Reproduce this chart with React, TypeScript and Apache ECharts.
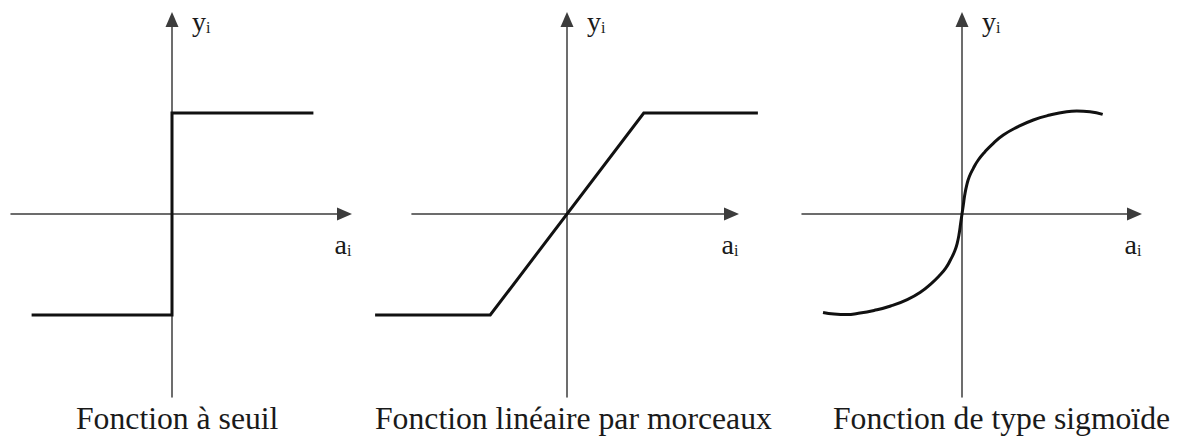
import React, { useEffect, useRef } from 'react';
import * as echarts from 'echarts';

// Panel captions
const panelTitles = ['Fonction à seuil', 'Fonction linéaire par morceaux', 'Fonction de type sigmoïde'];
const titleLeft = [76, 375, 833];

// Axis names (main letter + subscript index)
const xAxisLetter = 'a';
const yAxisLetter = 'y';
const indexLetter = 'i';

// Threshold (step) function
const stepX = [-1.39, 0, 0, 1.4];
const stepY = [-1, -1, 1, 1];

// Piecewise linear function
const linX = [-1.9, -0.76, 0.76, 1.89];
const linY = [-1, -1, 1, 1];

// Sigmoid-type function
const sigX = [
  -1.376, -1.267, -1.139, -1.037, -0.871, -0.706, -0.542, -0.409, -0.31, -0.228, -0.161, -0.112, -0.072, -0.047, -0.027, -0.013,
  0,
  0.013, 0.027, 0.047, 0.072, 0.112, 0.161, 0.228, 0.31, 0.409, 0.541, 0.706, 0.871, 1.036, 1.136, 1.267, 1.393,
];
const sigY = [
  -0.975, -0.99, -0.995, -0.985, -0.955, -0.911, -0.847, -0.772, -0.693, -0.614, -0.535, -0.45, -0.366, -0.287, -0.188, -0.089,
  0,
  0.089, 0.188, 0.287, 0.369, 0.452, 0.535, 0.617, 0.7, 0.782, 0.858, 0.931, 0.98, 1.013, 1.02, 1.013, 0.987,
];

// Axis extents per panel (where the drawn axes start / end)
const axisXMin = [-1.594, -1.535, -1.584];
const axisXMax = [1.708, 1.629, 1.708];
const yMin = -1.812;
const yMax = 1.926;

// Extents of the (invisible) plotting axes that carry the curves
const dataXMin = [-1.6, -1.95, -1.6];
const dataXMax = [1.95, 1.95, 1.95];

const seriesX = [stepX, linX, sigX];
const seriesY = [stepY, linY, sigY];
const smoothness = [false, false, 0.5];

// layout
const originX = [172, 567, 962];
const PX = 101; // pixels per unit
const gridTop = 19.5;
const gridHeight = (yMax - yMin) * PX;

const FONT = 'Liberation Serif, Times New Roman, serif';
const INK = '#1a1a1a';
const AXIS = '#3c3c3c';

export default function App() {
  const ref = useRef<HTMLDivElement>(null);

  useEffect(() => {
    if (!ref.current) return;
    const chart = echarts.init(ref.current, undefined, { renderer: 'svg' });

    const rich = {
      m: { fontSize: 28, fontFamily: FONT, color: INK },
      s: { fontSize: 16, fontFamily: FONT, color: INK, verticalAlign: 'bottom' },
    };

    const axisGrids = originX.map((ox, k) => ({
      left: ox + axisXMin[k] * PX,
      top: gridTop,
      width: (axisXMax[k] - axisXMin[k]) * PX,
      height: gridHeight,
    }));
    const dataGrids = originX.map((ox, k) => ({
      left: ox + dataXMin[k] * PX,
      top: gridTop,
      width: (dataXMax[k] - dataXMin[k]) * PX,
      height: gridHeight,
    }));

    const axisLineVisible = {
      show: true,
      onZero: true,
      symbol: ['none', 'triangle'],
      symbolSize: [13, 15],
      lineStyle: { color: AXIS, width: 1.5 },
    };
    const hidden = {
      axisLine: { show: false },
      axisTick: { show: false },
      axisLabel: { show: false },
      splitLine: { show: false },
    };

    const xAxes: any[] = [];
    const yAxes: any[] = [];
    originX.forEach((_, k) => {
      xAxes.push({
        gridIndex: k,
        type: 'value',
        min: axisXMin[k],
        max: axisXMax[k],
        ...hidden,
        axisLine: axisLineVisible,
        name: `{m|${xAxisLetter}}{s|${indexLetter}}`,
        nameLocation: 'end',
        nameGap: -10,
        nameTextStyle: { rich, fontFamily: FONT, padding: [60, 0, 0, 0] },
      });
      yAxes.push({
        gridIndex: k,
        type: 'value',
        min: yMin,
        max: yMax,
        ...hidden,
        axisLine: axisLineVisible,
        name: `{m|${yAxisLetter}}{s|${indexLetter}}`,
        nameLocation: 'end',
        nameGap: -2,
        nameTextStyle: { rich, fontFamily: FONT, align: 'left', verticalAlign: 'middle', padding: [0, 0, 0, 20] },
      });
    });
    originX.forEach((_, k) => {
      xAxes.push({ gridIndex: 3 + k, type: 'value', min: dataXMin[k], max: dataXMax[k], ...hidden });
      yAxes.push({ gridIndex: 3 + k, type: 'value', min: yMin, max: yMax, ...hidden });
    });

    const series = seriesX.map((xs, k) => ({
      type: 'line',
      xAxisIndex: 3 + k,
      yAxisIndex: 3 + k,
      data: xs.map((x, i) => [x, seriesY[k][i]]),
      showSymbol: false,
      symbol: 'none',
      smooth: smoothness[k],
      clip: false,
      silent: true,
      lineStyle: { color: '#111', width: 3, join: 'miter', cap: 'butt' },
    }));

    const graphic = panelTitles.map((text, k) => ({
      type: 'text',
      x: titleLeft[k],
      y: 418,
      style: {
        text,
        fontSize: 31.7,
        fontFamily: FONT,
        fill: INK,
        align: 'left',
        verticalAlign: 'middle',
      },
    }));

    chart.setOption({
      animation: false,
      backgroundColor: '#ffffff',
      textStyle: { fontFamily: FONT },
      grid: [...axisGrids, ...dataGrids],
      xAxis: xAxes,
      yAxis: yAxes,
      series,
      graphic,
    } as any);

    return () => chart.dispose();
  }, []);

  return (
    <div
      ref={ref}
      style={{ position: 'absolute', left: 0, top: 0, width: 1180, height: 436, background: '#fff', fontFamily: FONT }}
    />
  );
}
